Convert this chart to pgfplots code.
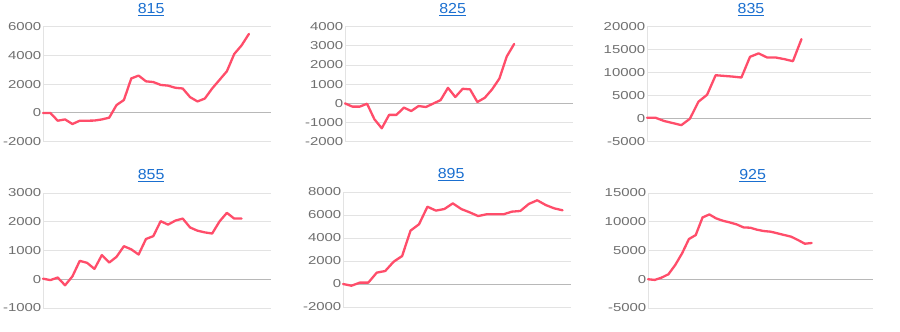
\documentclass[border=0pt]{standalone}
\usepackage{pgfplots}
\pgfplotsset{compat=1.18}
\usepackage{fontspec}
\setmainfont{Liberation Sans}
\definecolor{linered}{HTML}{FF4D6A}
\definecolor{tickgray}{HTML}{707070}
\definecolor{gridgray}{HTML}{E3E3E3}
\definecolor{zerogray}{HTML}{B8B8B8}
\definecolor{titleblue}{HTML}{1A6FD0}
\pgfplotsset{
  panel/.style={
    scale only axis,
    anchor=south west,
    height=115pt,
    xmin=0,
    axis line style={draw=none},
    xtick=\empty,
    ymajorgrids,
    grid style={gridgray, line width=0.9pt},
    major tick length=0pt,
    scaled y ticks=false,
    yticklabel={\scalebox{1.3}[1]{\pgfmathprintnumber[assume math mode=true,1000 sep={}]{\tick}}},
    yticklabel style={font=\fontsize{11.5}{12}\selectfont, text=tickgray, anchor=east, inner sep=0pt, xshift=-1.5pt},
    extra y ticks={0},
    extra y tick labels={},
    extra y tick style={grid style={zerogray, line width=0.9pt}},
    clip=false,
    every axis title shift=0pt,
    title style={anchor=base, yshift=13.4pt, inner sep=0pt, font=\fontsize{14.5}{16}\selectfont, text=titleblue},
  },
  redline/.style={linered, line width=2.3pt, line join=round, line cap=round, no marks},
}
\newcommand{\ttl}[1]{\scalebox{1.1}[1]{\underline{#1}}}
\begin{document}
\begin{tikzpicture}
\fill[white] (0,0) rectangle (900pt,332pt);
\path[use as bounding box] (0,0) rectangle (900pt,332pt);

% 815
\begin{axis}[panel, at={(43pt,190.3pt)}, width=228pt, xmax=31,
  ymin=-2000, ymax=6000, ytick={-2000,0,2000,4000,6000},
  title={\ttl{815}}, title style={at={(0.474,1)}}]
\draw[gridgray, line width=0.9pt] (rel axis cs:0,0) -- (rel axis cs:0,1);
\addplot[redline] coordinates {
(0,0) (1,0) (2,-540) (3,-450) (4,-770) (5,-540) (6,-540) (7,-530) (8,-450) (9,-330)
(10,550) (11,900) (12,2400) (13,2600) (14,2200) (15,2150) (16,1950) (17,1900) (18,1750) (19,1700)
(20,1100) (21,800) (22,1000) (23,1700) (24,2300) (25,2900) (26,4100) (27,4700) (28,5500)};
\end{axis}

% 825
\begin{axis}[panel, at={(345pt,190.3pt)}, width=228pt, xmax=31,
  ymin=-2000, ymax=4000, ytick={-2000,-1000,0,1000,2000,3000,4000},
  title={\ttl{825}}, title style={at={(0.472,1)}}]
\draw[gridgray, line width=0.9pt] (rel axis cs:0,0) -- (rel axis cs:0,1);
\addplot[redline] coordinates {
(0,0) (1,-170) (2,-170) (3,-20) (4,-830) (5,-1300) (6,-600) (7,-600) (8,-220) (9,-400)
(10,-140) (11,-190) (12,-10) (13,170) (14,810) (15,330) (16,760) (17,730) (18,70) (19,290)
(20,730) (21,1300) (22,2450) (23,3100)};
\end{axis}

% 835
\begin{axis}[panel, at={(647pt,190.3pt)}, width=224pt, xmax=26.1,
  ymin=-5000, ymax=20000, ytick={-5000,0,5000,10000,15000,20000},
  title={\ttl{835}}, title style={at={(0.464,1)}}]
\draw[gridgray, line width=0.9pt] (rel axis cs:0,0) -- (rel axis cs:0,1);
\addplot[redline] coordinates {
(0,200) (1,200) (2,-500) (3,-950) (4,-1400) (5,0) (6,3700) (7,5200) (8,9450) (9,9300)
(10,9150) (11,8950) (12,13450) (13,14200) (14,13300) (15,13300) (16,12950) (17,12500) (18,17300)};
\end{axis}

% 855
\begin{axis}[panel, at={(43pt,24pt)}, width=228pt, xmax=31,
  ymin=-1000, ymax=3000, ytick={-1000,0,1000,2000,3000},
  title={\ttl{855}}, title style={at={(0.474,1)}}]
\draw[gridgray, line width=0.9pt] (rel axis cs:0,0) -- (rel axis cs:0,1);
\addplot[redline] coordinates {
(0,20) (1,-30) (2,60) (3,-210) (4,100) (5,640) (6,570) (7,360) (8,840) (9,580)
(10,780) (11,1150) (12,1040) (13,860) (14,1400) (15,1500) (16,2020) (17,1900) (18,2040) (19,2110)
(20,1800) (21,1690) (22,1630) (23,1590) (24,2010) (25,2310) (26,2110) (27,2110)};
\end{axis}

% 895
\begin{axis}[panel, at={(343pt,25pt)}, width=228pt, xmax=27,
  ymin=-2000, ymax=8000, ytick={-2000,0,2000,4000,6000,8000},
  title={\ttl{895}}, title style={at={(0.474,1)}}]
\draw[gridgray, line width=0.9pt] (rel axis cs:0,0) -- (rel axis cs:0,1);
\addplot[redline] coordinates {
(0,0) (1,-150) (2,120) (3,120) (4,990) (5,1130) (6,1940) (7,2430) (8,4640) (9,5190)
(10,6720) (11,6380) (12,6520) (13,7010) (14,6520) (15,6230) (16,5910) (17,6060) (18,6060) (19,6060)
(20,6290) (21,6350) (22,6960) (23,7280) (24,6870) (25,6580) (26,6410)};
\end{axis}

% 925
\begin{axis}[panel, at={(648pt,24pt)}, width=225pt, xmax=33,
  ymin=-5000, ymax=15000, ytick={-5000,0,5000,10000,15000},
  title={\ttl{925}}, title style={at={(0.465,1)}}]
\draw[gridgray, line width=0.9pt] (rel axis cs:0,0) -- (rel axis cs:0,1);
\addplot[redline] coordinates {
(0,0) (1,-120) (2,290) (3,870) (4,2490) (5,4510) (6,6990) (7,7690) (8,10750) (9,11270)
(10,10580) (11,10170) (12,9880) (13,9540) (14,9020) (15,8960) (16,8610) (17,8380) (18,8270) (19,7980)
(20,7690) (21,7400) (22,6820) (23,6180) (24,6300)};
\end{axis}
\end{tikzpicture}
\end{document}
